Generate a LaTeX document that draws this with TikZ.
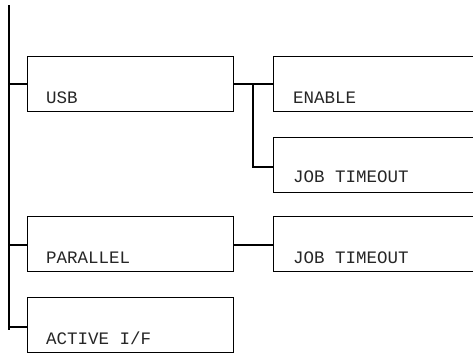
\documentclass[tikz,border=0pt]{standalone}
\usepackage{fontspec}
\setmonofont{Liberation Mono}
\begin{document}
\begin{tikzpicture}[x=1pt,y=-1pt,
  menubox/.style={draw,line width=1.3pt,minimum width=206pt,minimum height=55pt,inner sep=0pt,anchor=north west},
  subbox/.style={draw,line width=1.3pt,minimum width=240pt,minimum height=55pt,inner sep=0pt,anchor=north west},
  lbl/.style={anchor=base west,inner sep=0pt,font=\ttfamily\fontsize{17.5}{20}\selectfont,text=black!85},
  wire/.style={line width=1.3pt}]
\useasboundingbox (0,0) rectangle (473,354);
\clip (0,0) rectangle (473,354);
% left column boxes
\node[menubox] (usb) at (27,56) {};
\node[menubox] (par) at (27,216) {};
\node[menubox] (act) at (27,297) {};
% right column boxes
\node[subbox] (en) at (273,56) {};
\node[subbox] (jt1) at (273,137) {};
\node[subbox] (jt2) at (273,216) {};
% labels
\node[lbl] (tusb) at ([shift={(19,-9)}]usb.south west) {USB};
\node[lbl] (tpar) at ([shift={(19,-9)}]par.south west) {PARALLEL};
\node[lbl] (tact) at ([shift={(19,-9)}]act.south west) {ACTIVE I/F};
\node[lbl] (ten) at ([shift={(20,-9)}]en.south west) {ENABLE};
\node[lbl] (tjt1) at ([shift={(20,-11)}]jt1.south west) {JOB TIMEOUT};
\node[lbl] (tjt2) at ([shift={(20,-9)}]jt2.south west) {JOB TIMEOUT};
% main spine
\coordinate (top) at (9,5);
\coordinate (bot) at (9,330);
\draw[wire] (top) -- (bot);
\draw[wire] (9,84) -- (usb.west |- 0,84);
\draw[wire] (9,245) -- (par.west |- 0,245);
\draw[wire] (9,327) -- (act.west |- 0,327);
% usb branch
\coordinate (br) at (253,84);
\draw[wire] (usb.east |- br) -- (en.west |- br);
\draw[wire] (br) |- (jt1.west |- 0,167);
% parallel branch
\draw[wire] (par.east |- 0,245) -- (jt2.west |- 0,245);
\end{tikzpicture}
\end{document}
